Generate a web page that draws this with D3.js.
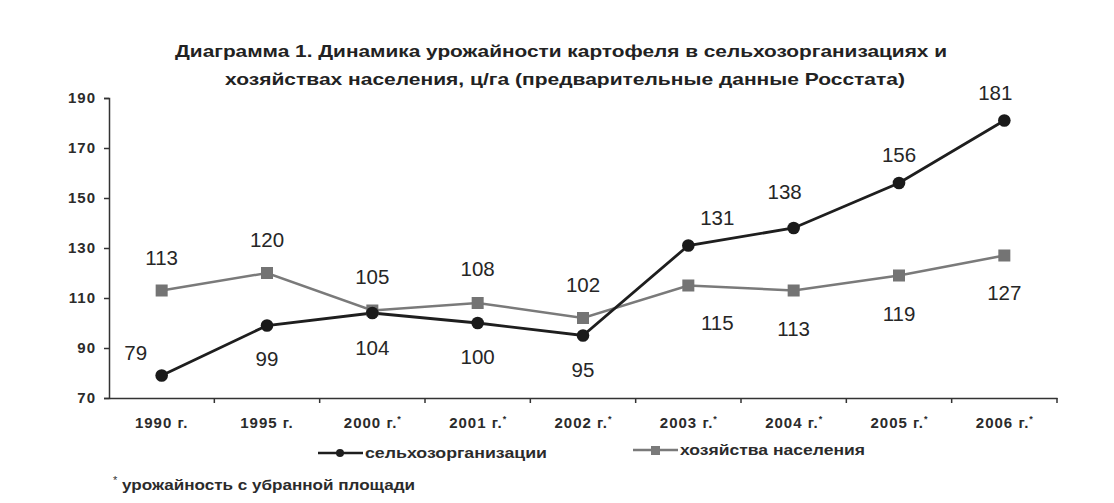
<!DOCTYPE html>
<html>
<head>
<meta charset="utf-8">
<script src="https://cdn.jsdelivr.net/npm/d3@7"></script>
<style>
  body { margin: 0; background: #fff; }
  svg { display: block; font-family: "Liberation Sans", Arial, sans-serif; }
</style>
</head>
<body>
<svg id="chart"></svg>
<script>
const years = ["1990 г.", "1995 г.", "2000 г.", "2001 г.", "2002 г.", "2003 г.", "2004 г.", "2005 г.", "2006 г."];
const starred = [false, false, true, true, true, true, true, true, true];
const selhoz = [79, 99, 104, 100, 95, 131, 138, 156, 181];
const naselenie = [113, 120, 105, 108, 102, 115, 113, 119, 127];
const yTicks = [70, 90, 110, 130, 150, 170, 190];
const titleLines = [
  "Диаграмма 1. Динамика урожайности картофеля в сельхозорганизациях и",
  "хозяйствах населения, ц/га (предварительные данные Росстата)"
];
const seriesNames = ["сельхозорганизации", "хозяйства населения"];
const footnote = "урожайность с убранной площади";

// label placement (offset from its point), as Excel left them
const selhozOff = [[-26, -23], [0, 33], [0, 35], [0, 34], [0, 34], [29, -28], [-9, -36], [0, -28], [-9, -28]];
const naselenieOff = [[0, -33], [0, -33], [0, -34], [0, -34], [0, -33], [29, 37], [0, 38], [0, 38], [0, 37]];

const w = 1114, h = 503;
const padL = 109, padR = 1057, padT = 98, padB = 398;
const svg = d3.select("#chart").attr("width", w).attr("height", h);

const x = d3.scaleBand().domain(years).range([padL, padR]);
const y = d3.scaleLinear().domain([70, 190]).range([padB, padT]);

// title
svg.selectAll("text.title").data(titleLines).enter().append("text")
  .attr("class", "title")
  .attr("x", (d, i) => i === 0 ? 175 : 225)
  .attr("y", (d, i) => 57 + i * 28)
  .attr("textLength", (d, i) => i === 0 ? 772 : 680)
  .attr("lengthAdjust", "spacingAndGlyphs")
  .attr("font-size", 17).attr("font-weight", "bold").attr("fill", "#222")
  .text(d => d);

// y axis
const yAxis = d3.axisLeft(y).tickValues(yTicks).tickSize(5).tickPadding(8);
const gy = svg.append("g").attr("transform", `translate(${padL},0)`).call(yAxis);
gy.select(".domain").attr("stroke", "#333").attr("stroke-width", 1.5);
gy.selectAll(".tick line").attr("stroke", "#333").attr("stroke-width", 1.5);
gy.selectAll(".tick text").attr("font-size", 15).attr("font-weight", "bold")
  .attr("letter-spacing", 1).attr("fill", "#2b2b2b");

// x axis
const xAxis = d3.axisBottom(x).tickSize(0).tickPadding(0).tickFormat(() => "");
const gx = svg.append("g").attr("transform", `translate(0,${padB})`).call(xAxis);
gx.select(".domain").attr("stroke", "#333").attr("stroke-width", 1.5);
// tick marks between categories
svg.append("g").selectAll("line").data(years).enter().append("line")
  .attr("x1", d => x(d) + x.bandwidth()).attr("x2", d => x(d) + x.bandwidth())
  .attr("y1", padB).attr("y2", padB + 5)
  .attr("stroke", "#333").attr("stroke-width", 1.5);

const xl = svg.append("g").selectAll("text").data(years).enter().append("text")
  .attr("x", d => x(d) + x.bandwidth() / 2)
  .attr("y", padB + 30)
  .attr("text-anchor", "middle")
  .attr("font-size", 15).attr("font-weight", "bold").attr("letter-spacing", 1)
  .attr("fill", "#2b2b2b");
xl.append("tspan").text(d => d);
xl.filter((d, i) => starred[i]).append("tspan")
  .attr("dy", -6).attr("font-size", 9).attr("letter-spacing", 0).text("*");

// lines
const pts = arr => arr.map((v, i) => [x(years[i]) + x.bandwidth() / 2, y(v)]);
const line = d3.line();

svg.append("path").attr("d", line(pts(naselenie)))
  .attr("fill", "none").attr("stroke", "#7a7a7a").attr("stroke-width", 2.5);
svg.append("path").attr("d", line(pts(selhoz)))
  .attr("fill", "none").attr("stroke", "#1e1e1e").attr("stroke-width", 2.8);

svg.append("g").selectAll("rect").data(pts(naselenie)).enter().append("rect")
  .attr("x", d => d[0] - 6).attr("y", d => d[1] - 6)
  .attr("width", 12).attr("height", 12).attr("fill", "#747474");
svg.append("g").selectAll("circle").data(pts(selhoz)).enter().append("circle")
  .attr("cx", d => d[0]).attr("cy", d => d[1]).attr("r", 6.3).attr("fill", "#1a1a1a");

// value labels
function labels(arr, off) {
  svg.append("g").selectAll("text").data(pts(arr)).enter().append("text")
    .attr("x", (d, i) => d[0] + off[i][0])
    .attr("y", (d, i) => d[1] + off[i][1])
    .attr("dy", "0.36em")
    .attr("text-anchor", "middle")
    .attr("font-size", 20.5).attr("fill", "#262626")
    .text((d, i) => arr[i]);
}
labels(selhoz, selhozOff);
labels(naselenie, naselenieOff);

// legend
const leg = [
  { name: seriesNames[0], x: 318, y: 453, len: 182, col: "#1e1e1e", mark: "circle" },
  { name: seriesNames[1], x: 633, y: 450, len: 185, col: "#7a7a7a", mark: "rect" }
];
leg.forEach(l => {
  const g = svg.append("g");
  g.append("line").attr("x1", l.x).attr("x2", l.x + 45).attr("y1", l.y).attr("y2", l.y)
    .attr("stroke", l.col).attr("stroke-width", 2.5);
  if (l.mark === "circle") {
    g.append("circle").attr("cx", l.x + 22).attr("cy", l.y).attr("r", 4).attr("fill", l.col);
  } else {
    g.append("rect").attr("x", l.x + 18).attr("y", l.y - 4).attr("width", 9).attr("height", 9).attr("fill", l.col);
  }
  g.append("text").attr("x", l.x + 47).attr("y", l.y + 5)
    .attr("textLength", l.len).attr("lengthAdjust", "spacingAndGlyphs")
    .attr("font-size", 15).attr("font-weight", "bold").attr("fill", "#2b2b2b")
    .text(l.name);
});

// footnote
svg.append("text").attr("x", 113).attr("y", 484)
  .attr("font-size", 11).attr("fill", "#333").text("*");
svg.append("text").attr("x", 122).attr("y", 490)
  .attr("textLength", 293).attr("lengthAdjust", "spacingAndGlyphs")
  .attr("font-size", 15).attr("font-weight", "bold").attr("fill", "#2b2b2b")
  .text(footnote);
</script>
</body>
</html>
